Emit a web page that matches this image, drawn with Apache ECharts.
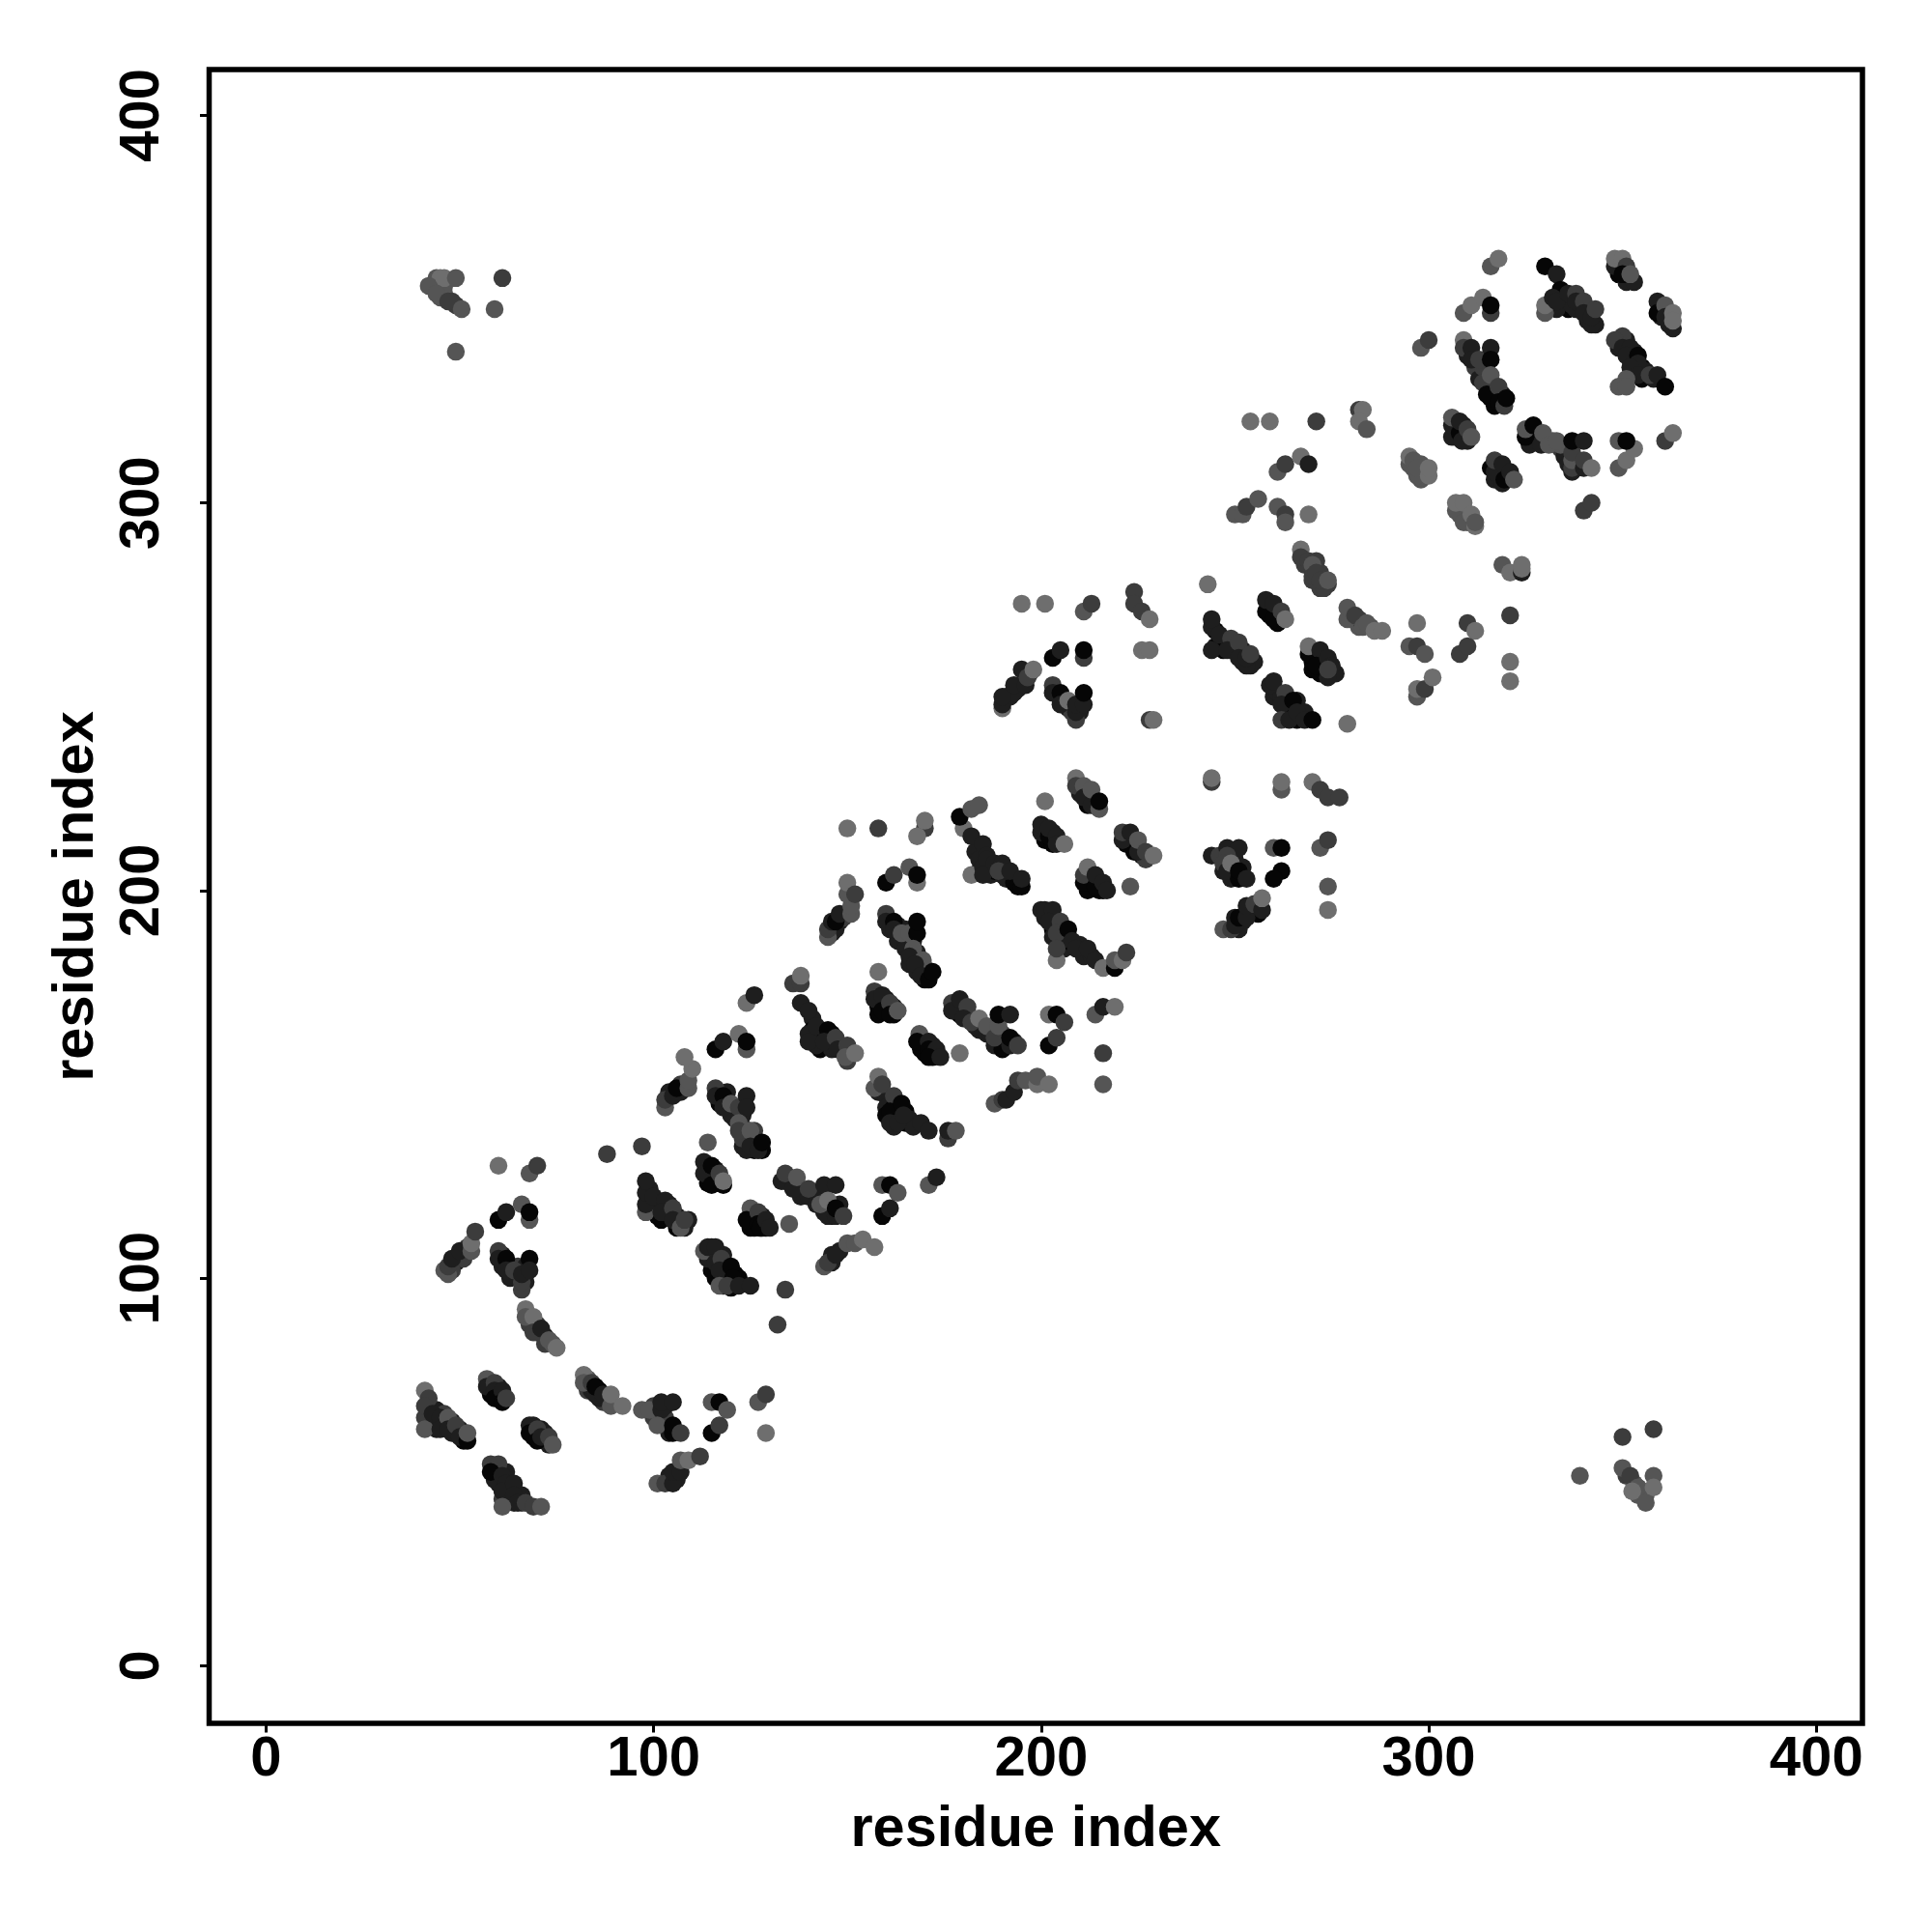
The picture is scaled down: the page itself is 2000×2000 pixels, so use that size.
<!DOCTYPE html>
<html><head><meta charset="utf-8">
<style>html,body{margin:0;padding:0;background:#fff}#c{width:2000px;height:2000px}</style>
<script src="https://cdn.jsdelivr.net/npm/echarts@6/dist/echarts.min.js"></script></head>
<body><div id="c"></div>
<script>
// each contact: [residue i, residue j, contact class 1 (weak) .. 5 (strong)]
const coreContactsLow = [
[43,63,4],[44,66,4],[46,62,4],[48,60,4],[46,65,3],[48,63,4],[50,61,4],[51,58,5],[42,64,3],[41,64,3],[44,61,4],
[58,70,5],[60,70,4],[60,72,4],[61,69,5],[58,73,4],
[69,59,5],[71,61,4],[72,58,5],[72,60,4],[69,62,4],[73,57,4],
[59,48,4],[60,50,4],[59,51,4],[62,50,4],[63,46,4],[63,44,5],[60,47,4],[62,43,4],[64,42,4],[66,44,4],[62,45,5],[66,42,3],[61,43,3],
[83,71,3],[86,71,5],[87,68,3],[88,68,3],[83,74,2],[86,69,4],[84,71,4],
[100,64,3],[101,64,3],[103,62,3],[103,64,3],[104,60,4],[103,67,4],[100,67,3],
[104,49,4],[106,48,4],
[49,104,4],[48,102,3],[51,105,3],[52,108,3],[46,102,2],
[61,103,4],[63,103,4],[63,100,4],[65,100,4],[65,103,3],[67,103,4],[67,99,4],[61,106,4],
[68,88,3],[70,86,4],[70,88,3],[72,85,4],[72,83,3],[74,83,2],
[99,120,5],[99,123,4],[100,118,5],[101,119,4],[102,115,5],[104,116,5],[104,119,4],[106,116,4],[106,113,5],[108,113,4],[109,115,4],[103,117,4],[101,116,5],
[114,126,5],[116,125,5],[116,128,4],[114,128,4],[115,127,5],[117,125,5],[114,124.5,5],
[125,113,5],[126,115,5],[128,113,5],[129,113,5],[125,116,4],[128,116,4],[126,113,5],
[115,106,4],[115,102,5],[116,100,5],[118,102,5],[118,98,5],[118,106,4],[119,100,5],[120,97.5,5],[121,101,5],[122,100,5],[114,105,4],[115,108,4],
[134,125,5],[136,125,4],[138,123,4],[138,121,4],[140,121,4],[142,122,4],[142,119,4],[144,121,3],[145,118,4],[146,116,5],[148,119,4],[143,121,4],[144,117,4],[145,116,4],
[146,104,4],[148,107,4],[146,106,4],
[122,141,4],[123,139,3],[124,137,3],[126,138,3],[126,136,3],[126,133,5],[127,135,4],[124,135,4],[128,133,5],
[104,148,4],[107,148,4],[107,150,3],
[117,145,5],[119,145,4],[119,148,4],[121,143,4],[121,141,4],[123,142,4],[123,144,4],[120,142,4],[123,134,4],[124,133,4],
[141,167,4],[141,164,5],[143,162,5],[143,159,5],[145,161,5],[146,159,4],[148,160,4],[146,163,5],[142,160,4],[149,159,4],[150,156,3],
[146,189,4],[147,190,4],[148,192,4],[149,193,3],
[161,190,4],[163,191,4],[163,187,4],[165,187,4],[165,185,4],[167,187,4],[168,184,4],[166,181,4],[168,179,4],[170,180,4],[170,177,5],[165,190,4],
[158,170,5],[160,170,5],[158,168,5],[160,172,4],[162,168,5],[162,170,4],
[178,170,4],[179,168,5],[181,168,4],[183,165,4],[184,164,4],[186,163,4],[187,163,4],[188,160,4],[190,161,4],[190,163,3],[193,161,4],[190,159,5],
[170,158,5],[170,160,4],[172,157,5],[172,160,4],[169,159,5],
[158,148,4],[160,147,4],[160,144,4],[162,144,5],[162,142,5],[163,144,4],[160,142,5],[165,143,5],[165,140,5],[166,141,4],[167,139,4],[162,139,4]
];
const coreContactsHigh = [
[183,210,4],[184,208,4],[184,205,4],[186,206,5],[187,204,4],[188,205,5],[190,204,4],[191,203,4],[193,203,4],[193,202,5],[194,201,5],[187,207,4],[191,205,4],
[201,213,5],[203,212,5],[203,215,4],[201,215,5],
[210,225,4],[212,224,4],[212,222,5],[214,222,5],[213,224,4],
[222,212,5],[224,212,4],[226,209,4],[224,210,5],[227,208,3],
[212,200,5],[212,202,5],[213,203,5],[215,200,5],[216,200,5],
[201,193,4],[203,192,5],[203,190,5],[205,190,5],[206,187,5],[206,189,5],[206,185,4],[207,187,5],[210,186,4],[205,187,4],[203,188,4],[211,183,4],[213,183,4],
[191,250,4],[192,250,4],[194,252,4],[193,251,4],[197,256,4],
[206,248,4],[207,247,4],[208,246,3],[210,246,4],[210,248,4],
[245,263,4],[245,267,5],[247,264,5],[247,262,5],[249,262,5],[250,262,4],[252,262,4],[252,259,4],[254,258,4],[255,259,4],[246,264,5],[253,258,4],
[259,271,5],[261,271,5],[261,269,5],[259,273,5],
[270,259,5],[270,257,5],[272,259,5],[272,256,5],[273,258,5],[276,256,4],[274,255,4],
[260,250,4],[261,251,4],[262,250,4],[263,248,4],[264,248,5],[264,246,5],[266,244,5],[266,249,4],[265,246,5],[268,246,4],
[247,205,4],[249,203,4],[250,208,4],[249,209,4],[252,206,4],[249,205,4],
[250,193,4],[252,192,4],[251,190,4],[255,195,4],[256,194,5],
[334,351,4],[335,352,5],[336,350,5],[338,350,4],[341,347,4],[341,350,4],[333,350,4],[337,351,4],[343,346,4],[342,346,4],
[349,359,5],[351,358,5],[351,357,4],[353,357,4],
[360,348,4],[362,346,4],[360,350,4],[362,349,4],[363,345,4],
[349,340,4],[351,342,4],[352,337,5],[353,339,4],[353,335,5],[355,335,5],[355,332,5],[356,334,4],[358,332,4],
[310,338,4],[312,335,3],[313,332,4],[315,334,4],[315,331,5],[316,330,4],[317,328,4],[317,325,5],[319,328,4],[316,327,5],[318,328,4],[314,335,3],
[307,319,4],[307,317,4],[309,317,4],[309,320,4],[310,316,4],[306,317,4],
[317,306,4],[318,309,4],[318,307,4],[320,307,4],[320,306,4],[319,305,4],
[326,317,4],[327,318,4],[328,316,4],[330,316,3],[332,316,2],[334,314,3],[335,312,4],[336,310,4],[337,308,4],[338,309,4],[326,315,4],[334,315,2],
[298,310,2],[296,309,2],[299,308,2],[298,306,2],
[308,299,2],[310,297,2],[310,295,2],[308,297,2],
[280,270,3],[282,268,2],[282,270,3],[285,268,2],
[268,284,3],[270,283,3],[272,278,3],[274,279,3],[272,282,3],[270,280,3],[271,285,3],[273,278,3],
[44,358,2],[45,358,1],[46,356,2],[45,353,2],[46,354,2],[48,352,3],[49,351,3],
[351,49,3],[353,47,2],[355,45,3],[356,44,2],[354,44,2]
];
const lowerLeftContacts = [
[41,71,1],[42,69,3],[41,67,3],[41,61,2],[43,65,4],[45,64,4],[45,61,4],[47,64,2],[47,61,4],[49,62,3],[50,59,4],[52,58,5],[52,60,2],
[57,74,2],[57,72,4],[59,73,3],[59,71,4],[59,69,5],[61,71,4],[61,68,5],[62,69,3],
[68,62,4],[68,60,5],[70,61,3],[70,58,5],[71,59,4],[73,59,3],[74,57,2],
[58,52,3],[60,52,3],[58,50,5],[61,49,4],[62,47,4],[61,45,4],[64,47,4],[64,44,4],[65,42,4],[61,41,2],[67,42,3],[69,41,3],[71,41,2],
[82,75,1],[82,73,2],[84,73,3],[85,70,4],[85,72,5],[87,70,4],[89,67,2],[89,70,1],[92,67,1],
[97,66,2],[99,66,2],[102,66,4],[102,68,4],[105,68,4],[101,62,2],[105,60,5],[105,62,5],[107,60,3],
[115,68,2],[117,68,5],[119,66,2],[115,60,5],[117,62,3],[127,68,2],[129,70,3],[129,60,1],
[101,47,2],[103,47,3],[105,47,4],[105,50,4],[107,50,4],[107,53,2],[109,53,1],[112,54,3]
];
const strandContacts = [
[47,101,2],[47,103,3],[48,105,4],[50,107,4],[53,107,2],[53,109,1],[54,112,3],
[60,115,5],[62,117,4],[66,119,2],[68,115,2],[68,117,5],[60,129,1],[68,127,2],[70,129,3],
[60,107,3],[60,105,4],[62,105,5],[62,102,4],[64,102,3],[66,97,3],[66,99,3],[66,101,4],[68,105,5],[68,102,4],
[67,92,1],[67,90,2],[69,90,1],[69,86,3],[71,87,4],[73,84,2],[75,82,1],
[88,132,3],[97,134,3],[114,135,2],
[98,117,2],[98,119,4],[98,122,4],[98,125,4],[100,121,4],[103,120,4],[102,117,4],[105,118,3],[105,115,4],[107,113,2],[108,115,3],
[113,130,4],[113,127,4],[115,129,5],[115,124,5],[117,127,3],[118,124,5],[118,125,1],
[125,118,2],[124,115,5],[127,117,3],[127,114,5],[127.5,113,5],[129,115,4],[130,113,4],[135,114,2],
[113,107,2],[114,108,4],[116,108,4],[116,104,4],[117.5,105,3],[117,102,4],[120,103,5],[120.5,100,5],[117,98,2],[119,98,3],[122,98,4],[125,98,4],
[134,97,3],[132,88,3],
[133,125,4],[134,127,3],[136,123,4],[137,126,2],[140,123,3],[144,124,4],[147,124,4],[143,119,2],[145,120,1],[147,116,4],[147,118,5],[149,116,3],
[144,103,2],[145,104,3],[147,106,4],[150,109,2],[152,109,2],[154,110,1],[157,108,1]
];
const middleContacts = [
[103,144,2],[103,146,3],[105,147,4],[106,149,5],[109,149,2],[109,151,2],[110,154,1],[108,157,1],
[116,159,5],[118,161,4],[122,163,1],[124,159,2],[124,161,5],[124,171,1],[126,173,4],
[116,149,3],[116,147,4],[118,147,5],[118,144,4],[120,145,2],[122,144,3],[124,147,4],[124,144,4],[122,140,2],[123,136,3],[122,138,3],[125,138,2],[125,134,4],[127,133,4],[128,135,5],
[136,176,3],[138,176,3],[138,178,1],[138,171,4],[140,169,4],[140,163,4],[140,161,4],[142,165,4],[145,164,5],[144,161,4],[147,162,3],[147.5,159,4],[150,160,3],[149.5,157,2],[152,158,1],
[145,188,2],[145,190,3],[146,192,4],[147,192,5],[148,194,4],[151,194,2],[151,196,2],[150,199,2],[150,202,1],[152,199,3],
[160,202,5],[162,204,3],[166,206,2],[168,202,1],[168,204,5],[170,216,3],[168,214,1],[170,218,1],[158,216,3],[150,216,1],
[160,194,3],[160,192,4],[162,192,5],[162,190,4],[164,189,2],[166,189,2],[168,189,5],[168,192,5],[167,185,2],[166,183,4],[169.5,182,2],[167.5,181,4],[169,178,4],[171,177,5],[172,179,5],
[158,179,1],[157,174,3],[157,172,4],[159,173,4],[159,169,5],[161,171,3],[161,168,5],[163,169,2],
[177,171,3],[177,169,4],[179,172,4],[181,170,3],[180,167,4],[182,166,3],[184,167,1],[186,165,2],[188,162,3],[189,165,2],[189,168,5],[192,168,4],[192,160,4],[192,162,5],[194,160,3],
[168.6,163,2],[168,161,5],[171,161,4],[171,159,5],[173,159,4],[171,157,5],[174,157,4],[179,158,1],
[157,149,2],[158,152,1],[159,150,3],[162,147,3],[161,143,5],[161,140,4],[164,145,5],[163,140,4],[164.5,142,4],[169,140,4],[171,138,4],[176,136,3],[176,138,4],[178,138,2],
[159,124,2],[161,124,5],[163,122,2],[159,116,5],[161,118,4],[171,124,2],[173,126,4],
[188,145,2],[190,146,3],[191,146,4],[193,148,4],[194,151,3],[196,151,2],[199,150,1],[199,152,2],[202,150,1]
];
const centreContacts = [
[180,216,1],[182,214,4],[182,204,1],[185,212,4],[186,209,4],[185,206,4],[186,208,4],[185,204,4],[188,207,4],[190,207,4],[189,205,3],[192,205,4],[195,201,5],[195,203,4],
[179,219,5],[182,221,2],[184,222,2],
[200,215,4],[200,217,4],[202,214,5],[202,216,4],[204,214,4],[204,212,4],[206,212,1],
[209,229,1],[209,227,3],[211,227,2],[211,224,4],[213,222,4],[213,226,2],[215,221,2],[215,223,5],[201,223,1],
[221,213,4],[221,215,3],[223,215,4],[225,210,4],[225,213,2],[227,210,3],[229,209,1],
[211,202,5],[211,204,3],[212,206,1],[214,201,5],[214,204,4],[216,202,4],[217,200,4],[223,201,2],
[200,195,4],[201,195,4],[203,195,4],[202,192,4],[205,192,3],[204,189,3],[207,190,5],[208,187,4],[204,182,1],[204,185,3],[209,185,4],[212,185,4],[214,182,4],
[216,180,1],[219,180,5],[219,182,2],[221,182,1],[222,184,3],
[202,168,1],[204,168,5],[206,166,3],[202,160,5],[204,162,3],[214,168,2],[216,170,4],[219,170,1],[216,158,3],[216,150,2],
[190,247,1],[190,248,4],[190,250,4],[193,253,4],[195,257,4],[196,253,4],[196.5,255,3],[198,257,1],
[203,260,5],[205,262,4],[211,260,3],[211,262,5],
[195,274,1],[201,274,1],[211,272,2],[213,274,3],[224,277,3],[224,274,3],[226,272,3],[228,270,1],[226,262,1],[228,262,1],
[203,253,3],[203,251,4],[205,251,5],[205,248,4],[207,249,1],[209,244,3],[209,246,4],[209,248,4],[211,248,4],[211,251,5],
[228,244,3],[229,244,1]
];
const upperBandContacts = [
[244,228,3],[244,229,1],[243,279,1],[262,226,2],[262,228,1],[270,228,1],[272,226,3],[274,224,3],[277,224,3],
[244,209,4],[246,209,3],[248,211,4],[251,211,4],[248,209,3],[247,207,3],[248,205,4],[249,207,1],[251,203,5],[251,205,5],[253,203,4],
[260,211,2],[262,211,5],[262,205,5],[260,203,5],[272,211,2],[274,213,3],[274,201,2],[274,195,1],
[247,190,2],[249,190,3],[250,191,4],[251,193,5],[253,193,4],[253,196,4],[255,196.5,3],[257,195,4],[257,198,1],
[244,262,4],[244,268,4],[244,270,4],[246,266,4],[249,265,3],[248,262,4],[251,264,3],[251,260,4],[253,260,4],[254,261,3],
[258,272,5],[258,275,4],[260,270,5],[260,274,4],[262,272,3],[263,270,1],
[269,261,5],[269,263,1],[272,262,4],[271,258,5],[274,260,4],[275,258,4],[274,257,3],
[259,253,4],[260,254,4],[263,251,3],[262,248,4],[265,249,5],[262,244,3],[264,244,4],[266,246,4],[268,244,4],[270,244,5],[279,243,1],
[267,288,1],[267,286,3],[269,285,3],[270,284,2],[270,281,3],[271,282,3],[272,280,3],[274,280,2],
[279,270,2],[279,273,2],[281,271,3],[283,268,2],[284,269,2],[286,267,1],[288,267,1],
[297,269,1],[295,263,2],[297,263,3],[299,261,2],[297,250,2],[297,252,1],[299,252,3],[301,255,1],
[310,269,3],[312,267,1],[308,261,3],[310,263,3],[321,271,3],[321,259,1],[321,254,1],
[319,284,2],[321,282,1],[324,282,4],[324,283,1],[324,284,1]
];
const topRightContacts = [
[254,321,1],[259,321,1],[271,321,3],[282,324,3],[283,324,1],[282,321,1],[284,319,2],
[250,297,2],[252,297,2],[253,299,3],[256,301,2],[261,299,2],[261,308,2],[263,310,3],[263,297,3],[263,295,2],[267,312,1],[269,310,4],[269,297,1],
[295,310,2],[295,312,1],[296,311,2],[297,307,2],[297,309,2],[300,307,1],[300,309,1],
[307,298,2],[307,300,1],[309,300,1],[309,295,2],[311,297,1],[312,294,1],[312,295,2],
[306,320,4],[306,322,2],[308,318,5],[308,321,4],[308.6,316,4],[310,319,3],[311,317,2],
[316,309,5],[317,308,4],[317,311,3],[319,310,4],[319.5,306,5],[321,308,4],[322,306,2],
[325,317,5],[325,319,2],[327,320,5],[329,315,4],[329.5,318,2],[331,315,2],[333,316,2],[337,309,3],[337,311,2],[337,313,3],[337,316,5],[340,309,4],[340,311,3],[340,316,4],[342,309,1],
[340,298,3],[342,300,3],[349,309,2],[351,311,1],[353,314,1],[349,316,2],[351,316,5],[361,316,3],[363,318,1],
[298,340,2],[300,342,3],[309,342,1],[309,340,3],[311,340,4],[311,337,4],[313,337,3],[316,340,4],[316,337,5],
[314,331,3],[316,333,2],[315,328,5],[318,330,3],[318,326,5],[319.5,325,3],[320,327,5],
[309,349,2],[311,351,1],[314,353,1],[316,349,3],[316,351,5],[316,361,2],[318,363,1],
[330,349,2],[330,351,1],[330,361,5],[333,359,4],[334,355,5],[332,353,4],[333,352,4],[336,354,4],[338,354,3],[338,352,4],[340,352,3],[340,349,4],[342,348,4],[343,350,3],
[348,361,4],[348,363,1],[350,363,1],[351,361,3],[350,359,5],[352,359,2],
[359,352,4],[359,349,5],[361,351,2],[361,348,4],[363,349,1],[363,347,1],
[350,343,3],[348,342,3],[350,340,4],[352,340,4],[351,338,4],[354,338,5],[354,336,4],[352,335,4],[354,333,4],[351,332,2],[349,330,2],[351,330,2],[357,333,3],[359,333,4],[361,330,5]
];
const farCornerContacts = [
[42,356,2],[46,358,1],[49,358,2],[61,358,3],[44,354,2],[47,352,3],[50.5,350,2],[59,350,2],[49,339,2],
[339,49,2],[350,59,3],[358,61,3],[350,51,2],[352,49,3],[354,46,2],[352.5,45,1],[358,49,2],[358,46,1],[356,42,2]
];
const classGreys = ['#6e6e6e','#555555','#3c3c3c','#1e1e1e','#060606'];
const xTickValues = [0,100,200,300,400];
const yTickValues = [0,100,200,300,400];
const axisTitle = 'residue index';

const allContacts = [].concat(coreContactsLow,coreContactsHigh,lowerLeftContacts,strandContacts,middleContacts,centreContacts,upperBandContacts,topRightContacts,farCornerContacts);
const font = '"Liberation Sans", Arial, sans-serif';
const axisCommon = {
  type:'value', splitLine:{show:false}, axisLine:{show:false,onZero:false},
  name:axisTitle, nameLocation:'middle',
  nameTextStyle:{color:'#000',fontFamily:font,fontWeight:'bold',fontSize:59.5}
};
const tick = v => ({show:true,length:9.5,customValues:v,lineStyle:{color:'#000',width:3}});
const label = (v,rot,m) => ({show:true,customValues:v,rotate:rot,margin:m,color:'#000',fontFamily:font,fontWeight:'bold',fontSize:58,
  formatter:x=>String(x), showMinLabel:true, showMaxLabel:true});
const chart = echarts.init(document.getElementById('c'),null,{renderer:'canvas'});
chart.setOption({
  animation:false, backgroundColor:'#fff',
  grid:{left:216.5,top:72,width:1711.5,height:1712,show:true,borderColor:'#000',borderWidth:5.5,backgroundColor:'#fff',containLabel:false},
  xAxis:Object.assign({},axisCommon,{min:-14.65,max:411.9,nameGap:81,axisTick:tick(xTickValues),axisLabel:label(xTickValues,0,9)}),
  yAxis:Object.assign({},axisCommon,{min:-14.88,max:411.8,nameGap:107,axisTick:tick(yTickValues),axisLabel:label(yTickValues,90,40)}),
  series:[{type:'scatter',symbol:'circle',symbolSize:18.5,data:allContacts,
    itemStyle:{color:p=>classGreys[p.value[2]-1],opacity:1,borderWidth:0},silent:true,large:false,progressive:0}]
});
</script></body></html>
